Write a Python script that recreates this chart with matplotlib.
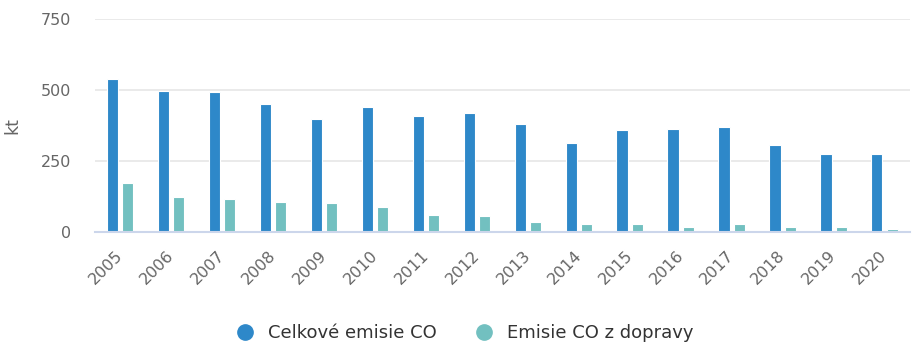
import matplotlib.pyplot as plt
import numpy as np
from matplotlib.lines import Line2D

years = ['2005', '2006', '2007', '2008', '2009', '2010', '2011', '2012',
         '2013', '2014', '2015', '2016', '2017', '2018', '2019', '2020']
total_co = [541, 498, 492, 452, 397, 442, 409, 418,
            380, 313, 359, 363, 369, 307, 274, 274]
transport_co = [173, 123, 117, 106, 102, 89, 62, 56,
                35, 28, 28, 18, 28, 18, 18, 12]

series_labels = ['Celkové emisie CO', 'Emisie CO z dopravy']
colors = ['#2e88c9', '#72c0c0']
text_color = '#666666'

fig = plt.figure(figsize=(9.13, 3.47), dpi=100)
ax = fig.add_axes([0.104, 0.3305, 0.893, 0.6145])

x = np.arange(len(years))
w = 0.22
ax.bar(x - 0.155, total_co, width=w, color=colors[0], edgecolor='white', linewidth=0.8, zorder=3)
ax.bar(x + 0.145, transport_co, width=w, color=colors[1], edgecolor='white', linewidth=0.8, zorder=3)

ax.set_xlim(-0.5, len(years) - 0.5)
ax.set_ylim(0, 750)
ax.set_yticks([0, 250, 500, 750])
ax.yaxis.grid(True, color='#e6e6e6', linewidth=1.2, zorder=0)
ax.set_axisbelow(True)

for side in ['top', 'right', 'left']:
    ax.spines[side].set_visible(False)
ax.spines['bottom'].set_color('#ccd6eb')
ax.spines['bottom'].set_linewidth(1.5)
ax.spines['bottom'].set_zorder(4)

ax.set_xticks(x)
ax.set_xticklabels(years, rotation=45, ha='right', va='center', rotation_mode='anchor')
ax.tick_params(axis='x', length=0, pad=15, labelsize=11.5, labelcolor=text_color)
ax.tick_params(axis='y', length=0, pad=17, labelsize=11.5, labelcolor=text_color)

ax.set_ylabel('kt', fontsize=12.5, color=text_color)
ax.yaxis.set_label_coords(-0.09, 0.5)

handles = [Line2D([0], [0], marker='o', linestyle='none', markersize=11,
                  markerfacecolor=c, markeredgecolor=c) for c in colors]
fig.legend(handles, series_labels, loc='center', bbox_to_anchor=(0.504, 0.04),
           ncol=2, frameon=False, fontsize=13, labelcolor='#333333',
           handletextpad=0.3, columnspacing=1.6)

fig.savefig('out.png', dpi=100)
